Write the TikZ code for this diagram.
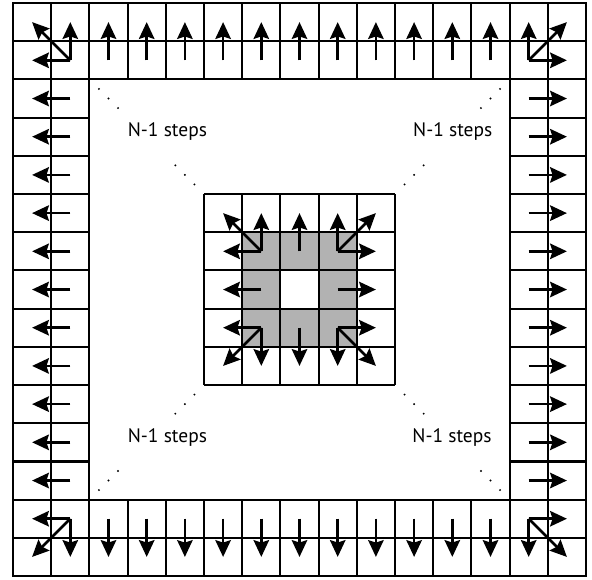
\documentclass[tikz,border=0pt]{standalone}
\usepackage{fontspec}
\setsansfont{PT Sans}
\usetikzlibrary{arrows.meta}

\definecolor{cellgray}{gray}{0.7}

\begin{document}
\begin{tikzpicture}[>={Stealth[length=12.5pt, width=11.5pt, inset=1.8pt]},
	gridline/.style={line width=1.6pt},
	flow/.style={->, line width=1.9pt},
	steplabel/.style={anchor=base west, inner sep=0pt, font=\sffamily\fontsize{14.5}{16}\selectfont},
	stepdot/.style={fill=black}]
	
	% -------------------------------------------------------------------------
	% 1. Parameters
	% -------------------------------------------------------------------------
	\def\N{15}     % outer grid size (cells)
	\def\Nm{14}    % last index
	\def\Dr{0.028} % dot radius
	
	\useasboundingbox (-0.34,-0.08) rectangle (15.157,15.079);
	
	% cell centres c-i-j (i: column from left, j: row from bottom)
	\foreach \i in {0,...,\Nm}
		\foreach \j in {0,...,\Nm}
			\coordinate (c-\i-\j) at (\i+0.5,\j+0.5);
	
	% -------------------------------------------------------------------------
	% 2. Outer ring (two cells thick)
	% -------------------------------------------------------------------------
	\draw[gridline] (0,0) grid (\N,\N);
	\fill[white] (2,2) rectangle (13,13);
	\draw[gridline] (2,2) rectangle (13,13);
	\draw[line width=2pt] (0,0) rectangle (\N,\N);
	
	% -------------------------------------------------------------------------
	% 3. Inner 5x5 block
	% -------------------------------------------------------------------------
	\fill[cellgray] (6,6) rectangle (9,9);
	\fill[white] (7,7) rectangle (8,8);
	\draw[gridline] (5,5) grid (10,10);
	
	% -------------------------------------------------------------------------
	% 4. Outer arrows
	% -------------------------------------------------------------------------
	\foreach \k in {1,...,13} {
		\draw[flow] (c-\k-13) -- (c-\k-14); % top
		\draw[flow] (c-\k-1) -- (c-\k-0);   % bottom
		\draw[flow] (c-1-\k) -- (c-0-\k);   % left
		\draw[flow] (c-13-\k) -- (c-14-\k); % right
	}
	% corners
	\draw[flow] (c-1-13) -- (c-0-14);
	\draw[flow] (c-13-13) -- (c-14-14);
	\draw[flow] (c-1-1) -- (c-0-0);
	\draw[flow] (c-13-1) -- (c-14-0);
	
	% -------------------------------------------------------------------------
	% 5. Inner arrows
	% -------------------------------------------------------------------------
	\draw[flow] (c-7-8) -- (c-7-9);
	\draw[flow] (c-7-6) -- (c-7-5);
	\draw[flow] (c-6-7) -- (c-5-7);
	\draw[flow] (c-8-7) -- (c-9-7);
	% top left
	\draw[flow] (c-6-8) -- (c-6-9);
	\draw[flow] (c-6-8) -- (c-5-8);
	\draw[flow] (c-6-8) -- (c-5-9);
	% top right
	\draw[flow] (c-8-8) -- (c-8-9);
	\draw[flow] (c-8-8) -- (c-9-8);
	\draw[flow] (c-8-8) -- (c-9-9);
	% bottom left
	\draw[flow] (c-6-6) -- (c-6-5);
	\draw[flow] (c-6-6) -- (c-5-6);
	\draw[flow] (c-6-6) -- (c-5-5);
	% bottom right
	\draw[flow] (c-8-6) -- (c-8-5);
	\draw[flow] (c-8-6) -- (c-9-6);
	\draw[flow] (c-8-6) -- (c-9-5);
	
	% -------------------------------------------------------------------------
	% 6. "N-1 steps" with dots
	% -------------------------------------------------------------------------
	\foreach \t in {0.25,0.5,0.75} {
		\fill[stepdot] (2+\t,13-\t) circle (\Dr);
		\fill[stepdot] (4+\t,11-\t) circle (\Dr);
		\fill[stepdot] (13-\t,13-\t) circle (\Dr);
		\fill[stepdot] (11-\t,11-\t) circle (\Dr);
		\fill[stepdot] (2+\t,2+\t) circle (\Dr);
		\fill[stepdot] (4+\t,4+\t) circle (\Dr);
		\fill[stepdot] (10+\t,5-\t) circle (\Dr);
		\fill[stepdot] (12+\t,3-\t) circle (\Dr);
	}
	\node[steplabel] (stepsTL) at (3.0,11.51) {N-1 steps};
	\node[steplabel] (stepsTR) at (10.47,11.51) {N-1 steps};
	\node[steplabel] (stepsBL) at (3.0,3.49) {N-1 steps};
	\node[steplabel] (stepsBR) at (10.45,3.49) {N-1 steps};
	
\end{tikzpicture}
\end{document}
